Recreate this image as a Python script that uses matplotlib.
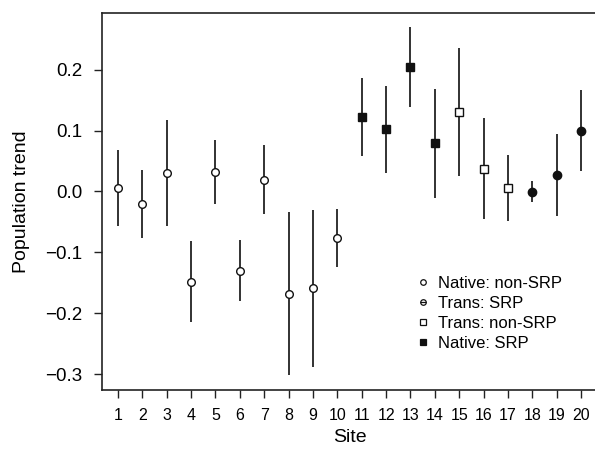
import matplotlib
matplotlib.use("Agg")
import matplotlib.pyplot as plt
from matplotlib.lines import Line2D
from matplotlib.legend_handler import HandlerTuple

plt.rcParams['font.family'] = ['Liberation Sans', 'DejaVu Sans']

# values
sites = list(range(1, 21))
trend = [0.006, -0.020, 0.030, -0.148, 0.032, -0.131, 0.019, -0.168, -0.159, -0.077,
         0.122, 0.103, 0.204, 0.080, 0.130, 0.037, 0.005, -0.001, 0.027, 0.099]
upper = [0.068, 0.035, 0.117, -0.081, 0.084, -0.080, 0.076, -0.034, -0.030, -0.028,
         0.186, 0.173, 0.270, 0.168, 0.235, 0.120, 0.060, 0.018, 0.095, 0.166]
lower = [-0.056, -0.076, -0.057, -0.215, -0.021, -0.180, -0.037, -0.301, -0.289, -0.124,
         0.058, 0.031, 0.138, -0.010, 0.026, -0.045, -0.048, -0.017, -0.041, 0.033]
group = ['Native: non-SRP'] * 10 + ['Native: SRP'] * 4 + ['Trans: non-SRP'] * 3 + ['Trans: SRP'] * 3

styles = {
    'Native: non-SRP': dict(marker='o', mfc='white', ms=5.5),
    'Native: SRP': dict(marker='s', mfc='#111111', ms=6),
    'Trans: non-SRP': dict(marker='s', mfc='white', ms=6),
    'Trans: SRP': dict(marker='o', mfc='#111111', ms=6),
}

fig = plt.figure(figsize=(5.95, 4.5), dpi=100)
ax = fig.add_axes([0.1714, 0.1333, 0.832, 0.8377])

ax.vlines(sites, lower, upper, color='#222222', lw=1.3, zorder=1)
for x, y, g in zip(sites, trend, group):
    st = styles[g]
    ax.plot(x, y, ls='none', marker=st['marker'], ms=st['ms'], mfc=st['mfc'],
            mec='#111111', mew=1.0, zorder=2)

ax.set_xlim(0.35, 20.65)
ax.set_ylim(-0.326, 0.293)
ax.set_xticks(sites)
ax.set_xticklabels([str(s) for s in sites], fontsize=11.5)
ax.set_yticks([-0.3, -0.2, -0.1, 0.0, 0.1, 0.2])
ax.set_yticklabels(['\u22120.3', '\u22120.2', '\u22120.1', '0.0', '0.1', '0.2'], fontsize=13.5)
ax.tick_params(direction='out', length=6, width=1.0, color='#222222')
ax.tick_params(axis='y', pad=8)
ax.tick_params(axis='x', pad=7)
for sp in ax.spines.values():
    sp.set_linewidth(1.2)
    sp.set_color('#222222')

ax.set_xlabel('Site', fontsize=14, labelpad=4)
ax.set_ylabel('Population trend', fontsize=14, labelpad=11)

# legend
h1 = Line2D([], [], ls='none', marker='o', ms=4, mfc='white', mec='#111111', mew=0.9)
h2a = Line2D([], [], ls='none', marker='o', ms=4, mfc='white', mec='#111111', mew=0.9)
h2b = Line2D([], [], ls='none', marker='_', ms=4, mec='#111111', mew=0.9)
h3 = Line2D([], [], ls='none', marker='s', ms=4.5, mfc='white', mec='#111111', mew=0.9)
h4 = Line2D([], [], ls='none', marker='s', ms=5, mfc='#111111', mec='#111111', mew=0.9)
ax.legend([h1, (h2a, h2b), h3, h4],
          ['Native: non-SRP', 'Trans: SRP', 'Trans: non-SRP', 'Native: SRP'],
          handler_map={tuple: HandlerTuple(ndivide=1, pad=0)},
          loc='upper left', bbox_to_anchor=(0.619, 0.325), frameon=False,
          fontsize=12, handlelength=0.7, handletextpad=0.55, labelspacing=0.3,
          borderpad=0)

fig.savefig('out.png', dpi=100)
